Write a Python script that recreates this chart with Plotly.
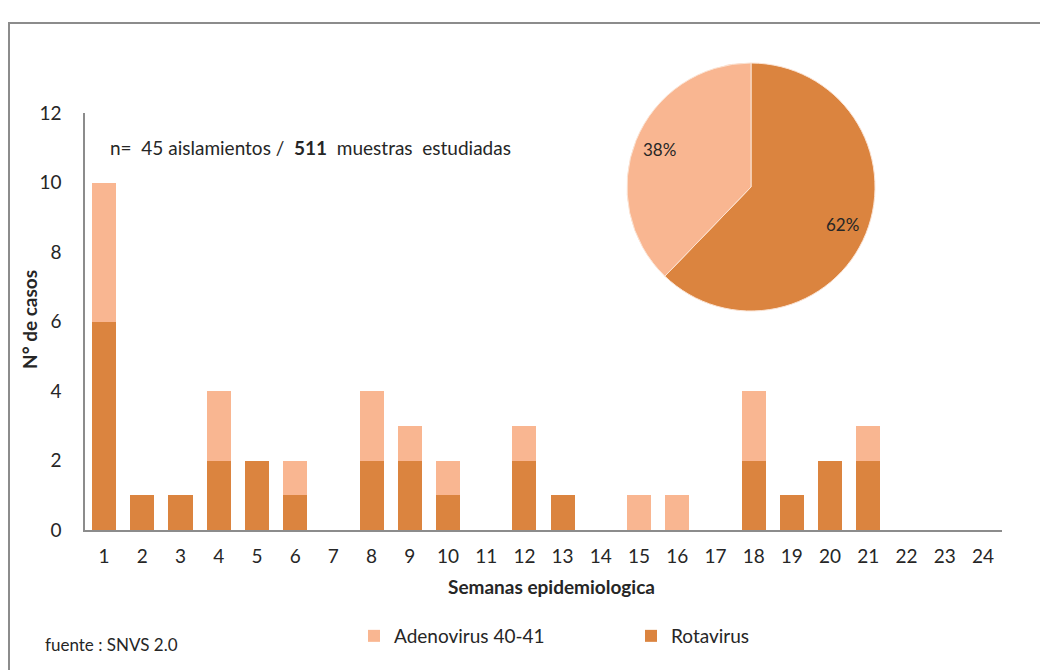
import math
import plotly.graph_objects as go

# Weekly isolations by agent
semanas = list(range(1, 25))
rotavirus = [6, 1, 1, 2, 2, 1, 0, 2, 2, 1, 0, 2, 1, 0, 0, 0, 0, 2, 1, 2, 2, 0, 0, 0]
adenovirus = [4, 0, 0, 2, 0, 1, 0, 2, 1, 1, 0, 1, 0, 0, 1, 1, 0, 2, 0, 0, 1, 0, 0, 0]
y_ticks = [0, 2, 4, 6, 8, 10, 12]

total_rota = sum(rotavirus)
total_adeno = sum(adenovirus)

COL_ROTA = "#DB843F"
COL_ADENO = "#F9B691"
FONT = "Lato, 'Open Sans', sans-serif"
TXT = "#262626"

W, H = 1040, 670


def px_x(x):
    return x / W


def px_y(y):
    return (H - y) / H


fig = go.Figure()

fig.add_trace(go.Bar(
    x=semanas, y=rotavirus, name="Rotavirus",
    marker=dict(color=COL_ROTA, line=dict(width=0)),
))
fig.add_trace(go.Bar(
    x=semanas, y=adenovirus, name="Adenovirus 40-41",
    marker=dict(color=COL_ADENO, line=dict(width=0)),
))

# Share pie (Rotavirus first, clockwise from 12 o'clock)
PIE_CX, PIE_CY, PIE_R = 751, 187, 124
pie_vals = [total_rota, total_adeno]
fig.add_trace(go.Pie(
    values=pie_vals,
    labels=["Rotavirus", "Adenovirus 40-41"],
    marker=dict(colors=[COL_ROTA, COL_ADENO], line=dict(color="#FBE3D3", width=1)),
    sort=False, direction="clockwise", rotation=0,
    textinfo="none",
    showlegend=False,
    domain=dict(x=[px_x(PIE_CX - PIE_R), px_x(PIE_CX + PIE_R)],
                y=[px_y(PIE_CY + PIE_R), px_y(PIE_CY - PIE_R)]),
    hoverinfo="label+value+percent",
))

# Percent labels placed along each slice's bisector
pie_annotations = []
start = 0.0
tot = sum(pie_vals)
for v in pie_vals:
    frac = v / tot
    mid = (start + frac / 2) * 2 * math.pi
    lx = PIE_CX + 0.80 * PIE_R * math.sin(mid)
    ly = PIE_CY - 0.80 * PIE_R * math.cos(mid)
    pie_annotations.append(dict(text=f"{round(frac * 100)}%", x=px_x(lx), y=px_y(ly),
                                font=dict(size=17, color=TXT)))
    start += frac

fig.update_layout(
    width=W, height=H,
    margin=dict(l=0, r=0, t=0, b=0, autoexpand=False),
    paper_bgcolor="white", plot_bgcolor="white",
    barmode="stack", bargap=0.37,
    font=dict(family=FONT, color=TXT, size=19),
    legend=dict(
        orientation="h", traceorder="reversed",
        x=px_x(354), y=px_y(636), xanchor="left", yanchor="middle",
        entrywidth=232, entrywidthmode="pixels",
        font=dict(size=19, family=FONT, color=TXT),
        itemwidth=30, bgcolor="rgba(0,0,0,0)",
    ),
    xaxis=dict(
        domain=[px_x(85), px_x(1002)], automargin=False,
        range=[0.5, 24.5], tickmode="array", tickvals=semanas,
        ticktext=[str(s) for s in semanas],
        showline=True, linecolor="#8C8C8C", linewidth=1.5,
        showgrid=False, zeroline=False, ticks="",
        ticklabelstandoff=8,
        tickfont=dict(size=19, family=FONT, color=TXT),
        fixedrange=True,
    ),
    yaxis=dict(
        domain=[px_y(530), px_y(113)], automargin=False,
        range=[0, 12], tickvals=y_ticks,
        showline=True, linecolor="#8C8C8C", linewidth=1.5,
        showgrid=False, zeroline=False, ticks="",
        ticklabelstandoff=18,
        tickfont=dict(size=19, family=FONT, color=TXT),
        fixedrange=True,
    ),
)

annotations = [
    dict(text="<b>Semanas epidemiologica</b>", x=px_x(551), y=px_y(586),
         font=dict(size=19)),
    dict(text="<b>N° de casos</b>", x=px_x(29), y=px_y(320), textangle=-90,
         font=dict(size=19)),
    dict(text=f"n=  {total_rota + total_adeno} aislamientos /  <b>511</b>  muestras  estudiadas",
         x=px_x(108), y=px_y(147), xanchor="left", font=dict(size=19)),
    dict(text="fuente : SNVS 2.0", x=px_x(43), y=px_y(644), xanchor="left",
         font=dict(size=17)),
] + pie_annotations
for a in annotations:
    a.setdefault("xanchor", "center")
    a.update(xref="paper", yref="paper", yanchor="middle", showarrow=False)
fig.update_layout(annotations=annotations)

# Outer chart frame
fig.add_shape(type="rect", xref="paper", yref="paper",
              x0=px_x(9), x1=px_x(1060), y0=px_y(700), y1=px_y(23),
              line=dict(color="#8C8C8C", width=2), layer="below")

fig.write_html("out.html")
